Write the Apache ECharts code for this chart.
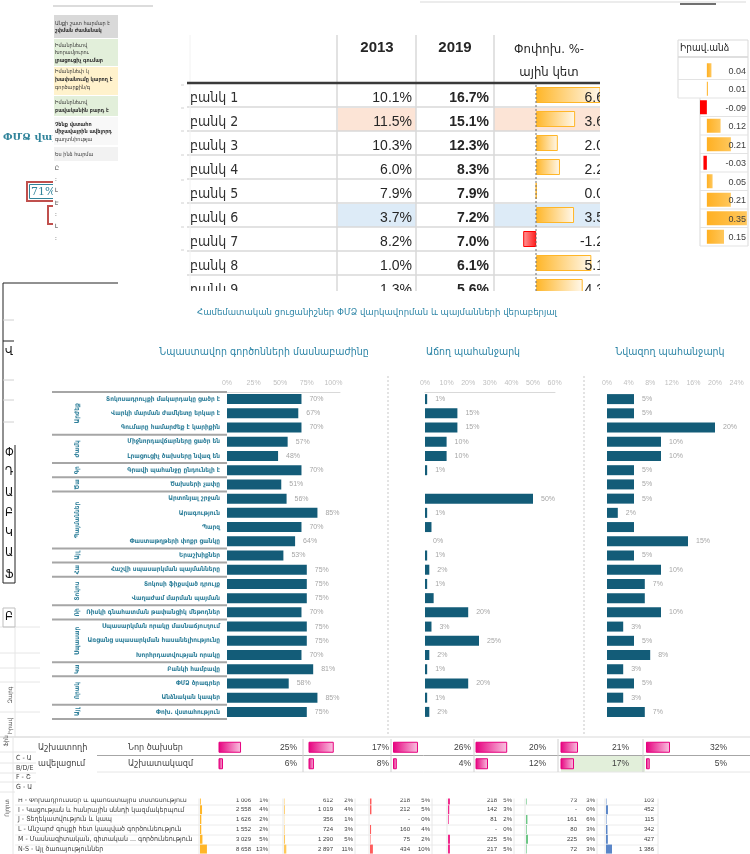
<!DOCTYPE html>
<html>
<head>
<meta charset="utf-8">
<script src="https://cdn.jsdelivr.net/npm/echarts@6/dist/echarts.min.js"></script>
<style>
html,body{margin:0;padding:0;background:#fff}
#c{width:750px;height:854px}
</style>
</head>
<body>
<div id="c"></div>
<script>
// ---------------- data ----------------
const banks = ['բանկ 1','բանկ 2','բանկ 3','բանկ 4','բանկ 5','բանկ 6','բանկ 7','բանկ 8','բանկ 9'];
const share2013 = [10.1, 11.5, 10.3, 6.0, 7.9, 3.7, 8.2, 1.0, 1.3];
const share2019 = [16.7, 15.1, 12.3, 8.3, 7.9, 7.2, 7.0, 6.1, 5.6];
const changePts = [6.6, 3.6, 2.0, 2.2, 0.0, 3.5, -1.2, 5.1, 4.3];
const tableHead = ['2013', '2019', 'Փոփոխ. %-', 'ային կետ'];

const legalHead = 'Իրավ.անձ';
const legalEntity = [0.04, 0.01, -0.09, 0.12, 0.21, -0.03, 0.05, 0.21, 0.35, 0.15];

const chartTitle = 'Համեմատական ցուցանիշներ ՓՄՁ վարկավորման և պայմանների վերաբերյալ';
const panelTitles = ['Նպաստավոր գործոնների մասնաբաժինը', 'Աճող պահանջարկ', 'Նվազող պահանջարկ'];
const factorLabels = [
  'Տոկոսադրույքի մակարդակը ցածր է', 'Վարկի մարման ժամկետը երկար է', 'Գումարը համարժեք է կարիքին',
  'Միջնորդավճարները ցածր են', 'Լրացուցիչ ծախսերը նվազ են', 'Գրավի պահանջը ընդունելի է',
  'Ծախսերի չափը', 'Արտոնյալ շրջան', 'Արագություն', 'Պարզ',
  'Փաստաթղթերի փոքր ցանկը', 'Երաշխիքներ', 'Հաշվի սպասարկման պայմանները',
  'Տոկոսի ֆիքսված դրույք', 'Վաղաժամ մարման պայման', 'Ռիսկի գնահատման թափանցիկ մեթոդներ',
  'Սպասարկման որակը մասնաճյուղում', 'Առցանց սպասարկման հասանելիությունը', 'Խորհրդատվության որակը',
  'Բանկի համբավը', 'ՓՄՁ ծրագրեր', 'Անձնական կապեր', 'Փոխ. վստահություն'
];
const factorGroups = [
  ['Արժեք', 0, 2], ['Ժամկետ', 3, 4], ['Գրավ', 5, 5], ['Ծախս', 6, 6], ['Պայմաններ', 7, 10],
  ['Այլ', 11, 11], ['Հաշ.', 12, 12], ['Տոկոս', 13, 14], ['Ռիսկ', 15, 15], ['Սպասարկում', 16, 18],
  ['Կապ', 19, 19], ['Որակ', 20, 21], ['Այլ', 22, 22]
];
const favorableShare = [70, 67, 70, 57, 48, 70, 51, 56, 85, 70, 64, 53, 75, 75, 75, 70, 75, 75, 70, 81, 58, 85, 75];
const increasingShare = [1, 15, 15, 10, 10, 1, null, 50, 1, 3, 0, 1, 2, 1, 4, 20, 3, 25, 2, 1, 20, 1, 2];
const increasingNoLabel = [9, 14];
const decreasingShare = [5, 5, 20, 10, 10, 5, 5, 5, 2, 5, 15, 5, 10, 7, 7, 10, 3, 5, 8, 3, 5, 3, 7];
const decreasingNoLabel = [9, 14];

const staffLabelsA = ['Աշխատողի', 'ավելացում'];
const staffLabelsB = ['Նոր ծախսեր', 'Աշխատակազմ'];
const staffRow1 = [25, 17, 26, 20, 21, 32];
const staffRow2 = [6, 8, 4, 12, 17, 5];

const sheetLeftCodes = ['C - Աշխ', 'B/D/E - Հ', 'F - Շին', 'G - Առև'];
const sectorLabels = [
  'H - Փոխադրումներ և պահեստային տնտեսություն',
  'I - Կացության և հանրային սննդի կազմակերպում',
  'J - Տեղեկատվություն և կապ',
  'L - Անշարժ գույքի հետ կապված գործունեություն',
  'M - Մասնագիտական, գիտական ... գործունեություն',
  'N-S - Այլ ծառայություններ'
];
const sectorCounts = [
  [1006, 2558, 1626, 1552, 3029, 8658],
  [612, 1019, 356, 724, 1290, 2897],
  [218, 212, null, 160, 75, 434],
  [218, 142, 81, null, 225, 217],
  [73, null, 161, 80, 225, 72],
  [103, 452, 115, 342, 427, 1386]
];
const sectorShares = [
  [1, 4, 2, 2, 5, 13],
  [2, 4, 1, 3, 5, 11],
  [5, 5, 0, 4, 2, 10],
  [5, 3, 2, 0, 5, 5],
  [3, 0, 6, 3, 9, 3]
];

const sideNoteLines = [
  ['Անքի շատ հարմար է', false], ['շփման ժամանակ', true],
  ['Իմանրնեւով կամ հեռախոսով', false], ['Խորամյուրություն առանց', false], ['լրացուցիչ գումար', true],
  ['Իմանրնեւի կամ հեռախոսի', false], ['խափանումը կարող է', true], ['գործարքին/գործընթացին', false],
  ['Իմանրնեւով կամ հեռախոսով', false], ['բավականին բարդ է', true],
  ['Չենք վստահում ինտերնետ', true], ['միջավայրին ավելորդ', true], ['գաղտնիության պահպանում', false],
  ['Ես ինձ հարմար չեմ զգում', false]
];
const sideLetters = ['Վ', 'Փ', 'Դ', 'Ա', 'Բ', 'Կ', 'Ա', 'Ֆ'];

// ---------------- styling ----------------
const ARM = "'DejaVu Sans Condensed','DejaVu Sans',sans-serif";
const NUM = "'Liberation Sans','DejaVu Sans',sans-serif";
const SERIF = "'DejaVu Serif','Liberation Serif',serif";
const TEAL_BAR = '#135c78';
const TEAL_TXT = '#2e7f9a';

const opt = {
  animation: false, backgroundColor: '#ffffff', textStyle: {fontFamily: ARM},
  grid: [], xAxis: [], yAxis: [], series: [], graphic: {elements: []}
};
const G = opt.graphic.elements;
const idx = n => Array.from({length: n}, (_, i) => String(i));

function addGrid(left, top, width, height) {
  opt.grid.push({left, top, width, height, containLabel: false});
  return opt.grid.length - 1;
}
function addAxes(gi, xa, ya) {
  opt.xAxis.push(Object.assign({gridIndex: gi}, xa));
  opt.yAxis.push(Object.assign({gridIndex: gi}, ya));
  return [opt.xAxis.length - 1, opt.yAxis.length - 1];
}
const hiddenValue = {type: 'value', show: false, min: 0, max: 1, splitLine: {show: false}};
const hiddenCat = n => ({type: 'category', inverse: true, data: idx(n), show: false});

// a column of cell text placed on a category axis (one label per row)
function textColumn(left, right, top, rowH, n, fmt, style, align) {
  const gi = addGrid(left, top, right - left, rowH * n);
  const isLeft = align === 'left';
  addAxes(gi, hiddenValue, {
    type: 'category', inverse: true, data: idx(n), z: 6,
    position: isLeft ? 'left' : 'right',
    axisLine: {show: false}, axisTick: {show: false}, splitLine: {show: false},
    axisLabel: Object.assign({
      inside: true, margin: 0, interval: 0, align: isLeft ? 'left' : 'right',
      verticalAlign: 'middle', formatter: v => fmt(Number(v))
    }, style)
  });
}
// a column of in-cell data bars
function barColumn(left, top, width, rowH, n, min, max, data, barWidth, itemStyle) {
  const gi = addGrid(left, top, width, rowH * n);
  const [xi, yi] = addAxes(gi, {type: 'value', show: false, min, max}, hiddenCat(n));
  opt.series.push({type: 'bar', xAxisIndex: xi, yAxisIndex: yi, data, barWidth, clip: true,
    silent: true, itemStyle: itemStyle || {}});
}
const grad = (c1, c2, rev) => ({type: 'linear', x: rev ? 1 : 0, y: 0, x2: rev ? 0 : 1, y2: 0,
  colorStops: [{offset: 0, color: c1}, {offset: 1, color: c2}]});

function line(x1, y1, x2, y2, stroke, lineWidth, z, dash) {
  G.push({type: 'line', silent: true, z: z == null ? 1 : z, shape: {x1, y1, x2, y2},
    style: {stroke, lineWidth, lineDash: dash || null}});
}
function rect(x, y, width, height, fill, z, stroke, lw) {
  G.push({type: 'rect', silent: true, z: z == null ? 0 : z, shape: {x, y, width, height},
    style: {fill: fill || 'transparent', stroke: stroke || null, lineWidth: lw || 0}});
}
function text(x, y, str, style, z, rotation) {
  G.push({type: 'text', silent: true, z: z == null ? 3 : z, x, y, rotation: rotation || 0,
    style: Object.assign({text: str, fill: '#333', fontFamily: ARM, fontSize: 10,
      align: 'left', verticalAlign: 'middle'}, style)});
}

// ---------------- top table: bank shares ----------------
const T_TOP = 83, T_ROW = 24, T_N = 9;
const rowHighlight = {1: '#fce4d6', 5: '#ddebf7'};
Object.keys(rowHighlight).forEach(r => {
  const y = T_TOP + T_ROW * Number(r) + 1;
  rect(338, y, 78, T_ROW - 1, rowHighlight[r], 0);
  rect(494, y, 106, T_ROW - 1, rowHighlight[r], 0);
});
for (let k = 1; k < T_N; k++) line(187, T_TOP + T_ROW * k, 600, T_TOP + T_ROW * k, '#d9d9d9', 1.5, 1);
[337, 416, 494].forEach(x => line(x, 35, x, 292, '#d9d9d9', 1.5, 1));
line(187, 83, 600, 83, '#3a3a3a', 2.5, 4);
line(536, 85, 536, 292, '#6f6f6f', 1, 4, [2, 2]);

text(377, 48, tableHead[0], {fontFamily: NUM, fontWeight: 'bold', fontSize: 15, align: 'center', fill: '#262626'});
text(455, 48, tableHead[1], {fontFamily: NUM, fontWeight: 'bold', fontSize: 15, align: 'center', fill: '#262626'});
text(549, 50, tableHead[2], {fontSize: 13, align: 'center', fill: '#262626'});
text(549, 73, tableHead[3], {fontSize: 13, align: 'center', fill: '#262626'});

textColumn(190, 337, 86, T_ROW, T_N, i => banks[i], {fontFamily: ARM, fontSize: 14, color: '#303030'}, 'left');
textColumn(338, 412, 86, T_ROW, T_N, i => share2013[i].toFixed(1) + '%', {fontFamily: NUM, fontSize: 14, color: '#262626'});
textColumn(416, 489, 86, T_ROW, T_N, i => share2019[i].toFixed(1) + '%', {fontFamily: NUM, fontSize: 14, fontWeight: 'bold', color: '#262626'});
barColumn(494, T_TOP, 106, T_ROW, T_N, -3.9, 5.9,
  changePts.map(v => ({value: v, itemStyle: v >= 0
    ? {color: grad('#ffb628', '#fff8ec'), borderColor: '#ffb628', borderWidth: 1}
    : {color: grad('#ff1a1a', '#ff9a9a', true), borderColor: '#ff0000', borderWidth: 1}})), 16);
textColumn(536, 604, 86, T_ROW, T_N, i => changePts[i].toFixed(1), {fontFamily: NUM, fontSize: 14, color: '#262626'});
// table is cropped on its right side and bottom
rect(600, 8, 76, 285, '#ffffff', 10);
rect(180, 291, 430, 12, '#ffffff', 10);

// ---------------- legal-entity column ----------------
const L_TOP = 61, L_ROW = 18.5, L_N = legalEntity.length;
text(680, 48, legalHead, {fontSize: 10, fill: '#262626'});
line(678, 40, 748, 40, '#d9d9d9', 1, 1);
line(678, 57, 748, 57, '#bfbfbf', 1, 1);
line(678, 40, 678, 98, '#d9d9d9', 1, 1);
line(748, 40, 748, 246, '#d9d9d9', 1, 1);
line(700, 98, 700, 246, '#d9d9d9', 1, 1);
for (let k = 1; k <= L_N; k++) {
  const y = L_TOP + L_ROW * k;
  line(k <= 2 ? 678 : 700, y, 748, y, '#e3e3e3', 1, 1);
}
barColumn(700, L_TOP, 48, L_ROW, L_N, -0.06, 0.36,
  legalEntity.map(v => ({value: v, itemStyle: {color: v >= 0 ? grad('#ffb022', '#ffc75c') : '#ff0000'}})), 14);
textColumn(700, 746, L_TOP + 1, L_ROW, L_N, i => legalEntity[i].toFixed(2), {fontFamily: NUM, fontSize: 9, color: '#404040'});

// ---------------- sheet fragment on the upper left ----------------
text(3, 137, 'ՓՄՁ վարկ', {fontFamily: SERIF, fontWeight: 'bold', fontSize: 10, fill: '#31849b'}, 2);
rect(27, 182, 29, 19, '#ffffff', 2, '#c0504d', 2);
rect(29.5, 184.5, 24, 14, null, 2, '#31849b', 1);
text(31, 192, '71%', {fontFamily: SERIF, fontSize: 11, fill: '#31849b'}, 3);
rect(48, 206, 10, 18, '#ffffff', 2, '#c0504d', 2);
rect(53, 7, 66, 245, '#ffffff', 5);
line(53, 6, 153, 6, '#d0d0d0', 1.5, 6);
rect(54, 15, 64, 23, '#d9d9d9', 5);
rect(54, 39, 64, 27, '#e2efda', 5);
rect(54, 67, 64, 28, '#fff2cc', 5);
rect(54, 96, 64, 20, '#e2efda', 5);
rect(54, 117, 64, 28, '#f8f8f8', 5);
rect(54, 147, 64, 14, '#f2f2f2', 5);
const sideY = [24, 31, 46, 53, 61, 72, 80, 88, 103, 111, 125, 132, 140, 155];
sideNoteLines.forEach((l, i) => text(55, sideY[i], l[0],
  {fontSize: 5.5, fontWeight: l[1] ? 'bold' : 'normal', fill: '#333', width: 62, overflow: 'truncate', ellipsis: ''}, 6));
[168, 179, 190, 203, 214, 226, 238].forEach((y, i) => text(55, y, ['Ը', ':', 'Լ', 'Է', ':', 'Լ', ':'][i], {fontSize: 6, fill: '#333'}, 6));
[85, 108, 131, 155, 180, 203, 227, 250].forEach(y => line(181, y, 184, y, '#d0d0d0', 1, 1));
line(190, 35, 190, 290, '#f2f2f2', 1, 1);
line(420, 2, 746, 2, '#d9d9d9', 1, 12);
line(680, 4, 716, 4, '#404040', 1.5, 12);

// ---------------- left strip ----------------
line(3, 283, 118, 283, '#222', 1, 2);
line(3, 283, 3, 583, '#222', 1, 2);
line(3, 583, 15, 583, '#222', 1, 2);
line(15, 445, 15, 583, '#222', 1, 2);
line(3, 341, 14, 341, '#222', 1, 2);
[320, 380, 400, 422].forEach(y => line(3, y, 14, y, '#d0d0d0', 1, 2));
const letterY = [352, 453, 472, 493, 513, 533, 553, 575];
sideLetters.forEach((c, i) => text(5, letterY[i], c, {fontSize: 12, fill: '#111'}, 3));
rect(3, 608, 12, 19, null, 2, '#bfbfbf', 1);
text(5, 617, 'Բ', {fontSize: 12, fill: '#111'}, 3);
[627, 653, 668, 682, 712, 737].forEach(y => line(0, y, 40, y, '#e6e6e6', 1, 1));
line(15, 627, 15, 737, '#e6e6e6', 1, 1);
text(10, 695, 'Զարգ', {fontSize: 6, fill: '#555', align: 'center'}, 3, Math.PI / 2);
text(10, 726, 'Իրավ', {fontSize: 6, fill: '#555', align: 'center'}, 3, Math.PI / 2);

// ---------------- comparison chart ----------------
const P_TOP = 392, P_N = factorLabels.length, P_ROW = 327 / P_N;
text(377, 313, chartTitle, {fontSize: 9.5, fill: '#2b84a6', align: 'center'});
text(264, 352, panelTitles[0], {fontSize: 10.5, fill: '#2b84a6', align: 'center'});
text(473, 352, panelTitles[1], {fontSize: 10.5, fill: '#2b84a6', align: 'center'});
text(670, 352, panelTitles[2], {fontSize: 10.5, fill: '#2b84a6', align: 'center'});

function panel(left, width, max, interval, values, noLabel, withLine, cats) {
  const gi = addGrid(left, P_TOP, width, P_ROW * P_N);
  const ya = cats ? {
    type: 'category', inverse: true, data: cats,
    axisLine: {show: false}, axisTick: {show: false},
    axisLabel: {interval: 0, margin: 7, fontSize: 6.5, fontWeight: 'bold', color: TEAL_TXT, fontFamily: ARM}
  } : hiddenCat(P_N);
  const [xi, yi] = addAxes(gi, {
    type: 'value', position: 'top', min: 0, max, interval,
    axisLine: {show: withLine, lineStyle: {color: '#d9d9d9', width: 1}},
    axisTick: {show: false}, splitLine: {show: false},
    axisLabel: {color: '#bfbfbf', fontSize: 7, margin: 5, fontFamily: NUM, formatter: '{value}%', showMaxLabel: false}
  }, ya);
  opt.series.push({
    type: 'bar', xAxisIndex: xi, yAxisIndex: yi, barWidth: 10, silent: true,
    itemStyle: {color: TEAL_BAR},
    label: {show: true, position: 'right', distance: 8, fontSize: 7, color: '#a6a6a6', fontFamily: NUM,
      formatter: p => p.value + '%'},
    data: values.map((v, i) => noLabel.includes(i) ? {value: v, label: {show: false}} : v)
  });
}
panel(227, 113, 113 / 1.064, 25, favorableShare, [], true, factorLabels);
panel(425, 130, 130 / 2.16, 10, increasingShare, increasingNoLabel, true, null);
panel(607, 138, 138 / 5.4, 4, decreasingShare, decreasingNoLabel, false, null);

// group brackets on the left of the first panel
const bounds = [0];
factorGroups.forEach(g => bounds.push(g[2] + 1));
bounds.forEach(k => line(52, P_TOP + P_ROW * k, 227, P_TOP + P_ROW * k, '#a6a6a6', 2, 1));
factorGroups.forEach(g => {
  const yc = P_TOP + P_ROW * (g[1] + g[2] + 1) / 2;
  const span = P_ROW * (g[2] - g[1] + 1) - 2;
  text(77, yc, g[0], {fontSize: 6.5, fontWeight: 'bold', fill: TEAL_TXT, align: 'center',
    width: span, overflow: 'truncate', ellipsis: ''}, 3, Math.PI / 2);
});
line(388, 376, 388, 735, '#c8c8c8', 1, 1, [2, 2]);
line(584, 376, 584, 735, '#c8c8c8', 1, 1, [2, 2]);
line(0, 737, 750, 737, '#d9d9d9', 1, 1);

// ---------------- staff table (pink bars) ----------------
const S_TOP = 739, S_ROW = 16.5;
const sBarStart = [219, 309, 393, 476, 561, 646];
const sTextRight = [297, 389, 471, 546, 629, 727];
const sScale = [[1.8, 0.95], [5.75, 2.2], [0, 0.96], [7, 2.4], [4, 1.0], [0, 0.75]];
rect(36, 736, 714, 56, '#ffffff', 0);
rect(561, S_TOP + S_ROW, 84, S_ROW, '#e2efda', 0);
line(97, S_TOP + S_ROW, 750, S_TOP + S_ROW, '#a6a6a6', 1, 1);
line(97, S_TOP + 2 * S_ROW, 750, S_TOP + 2 * S_ROW, '#e6e6e6', 1, 1);
[303, 391, 474, 558, 643].forEach(x => line(x, S_TOP, x, S_TOP + 2 * S_ROW, '#d0d0d0', 1, 1));
textColumn(38, 125, S_TOP, S_ROW, 2, i => staffLabelsA[i], {fontFamily: ARM, fontSize: 9, color: '#404040'}, 'left');
textColumn(128, 215, S_TOP, S_ROW, 2, i => staffLabelsB[i], {fontFamily: ARM, fontSize: 9, color: '#404040'}, 'left');
sBarStart.forEach((x0, c) => {
  const w = sTextRight[c] - x0;
  const [mn, ppu] = sScale[c];
  barColumn(x0, S_TOP, w, S_ROW, 2, mn, mn + w / ppu, [staffRow1[c], staffRow2[c]], 11,
    {color: grad('#e6007e', '#f9c4e1'), borderColor: '#e6007e', borderWidth: 1});
  textColumn(x0, sTextRight[c], S_TOP, S_ROW, 2, i => [staffRow1, staffRow2][i][c] + '%',
    {fontFamily: NUM, fontSize: 8.5, color: '#404040'});
});

// ---------------- sector table ----------------
const R_TOP = 795, R_ROW = 10, R_N = sectorLabels.length;
const rBarStart = [200, 284, 370, 448, 526, 606];
const rNumRight = [251, 333, 410, 497, 577, 654];
const rPctRight = [268, 353, 430, 512, 595];
const rAxisMax = [10000, 10000, 1200, 900, 900, 1850];
const rColors = ['#ffb628', '#ffc85a', '#ff5c5c', '#f0288c', '#6cc785', '#5a86c8'];
const fmtCount = v => v == null ? '-' : String(v).replace(/\B(?=(\d{3})+(?!\d))/g, ' ');
text(7, 808, 'Ոլորտ', {fontSize: 6, fill: '#555', align: 'center'}, 3, Math.PI / 2);
text(6, 741, 'Ֆին', {fontSize: 6, fill: '#555', align: 'center'}, 3, Math.PI / 2);
line(13, 737, 13, 854, '#e6e6e6', 1, 1);
[752, 763, 773, 782, 792].forEach(y => line(0, y, 36, y, '#e6e6e6', 1, 1));
const codeY = [758, 768, 777, 787];
sheetLeftCodes.forEach((s, i) => text(16, codeY[i], s, {fontSize: 7, fill: '#404040', width: 20, overflow: 'truncate', ellipsis: ''}, 3));
for (let k = 1; k <= R_N; k++) line(15, R_TOP + R_ROW * k, 658, R_TOP + R_ROW * k, '#ececec', 1, 1);
[199, 269, 283, 355, 369, 432, 447, 514, 525, 597, 605, 658].forEach(x => line(x, 796, x, 854, '#e8e8e8', 1, 1));
textColumn(18, 198, R_TOP, R_ROW, R_N, i => sectorLabels[i], {fontFamily: ARM, fontSize: 7, color: '#404040'}, 'left');
rBarStart.forEach((x0, c) => {
  const w = rNumRight[c] - x0;
  barColumn(x0, R_TOP, w, R_ROW, R_N, 0, rAxisMax[c] * w / 8, sectorCounts[c].map(v => v == null ? 0 : v), 9,
    {color: rColors[c]});
  textColumn(x0, rNumRight[c], R_TOP, R_ROW, R_N, i => fmtCount(sectorCounts[c][i]), {fontFamily: NUM, fontSize: 6, color: '#404040'});
  if (c < rPctRight.length) {
    textColumn(rNumRight[c], rPctRight[c], R_TOP, R_ROW, R_N, i => sectorShares[c][i] + '%', {fontFamily: NUM, fontSize: 6, color: '#404040'});
  }
});
// first sector row sits under the staff table
rect(15, 791, 645, 7.5, '#ffffff', 10);

const chart = echarts.init(document.getElementById('c'), null, {renderer: 'canvas'});
chart.setOption(opt);
</script>
</body>
</html>
